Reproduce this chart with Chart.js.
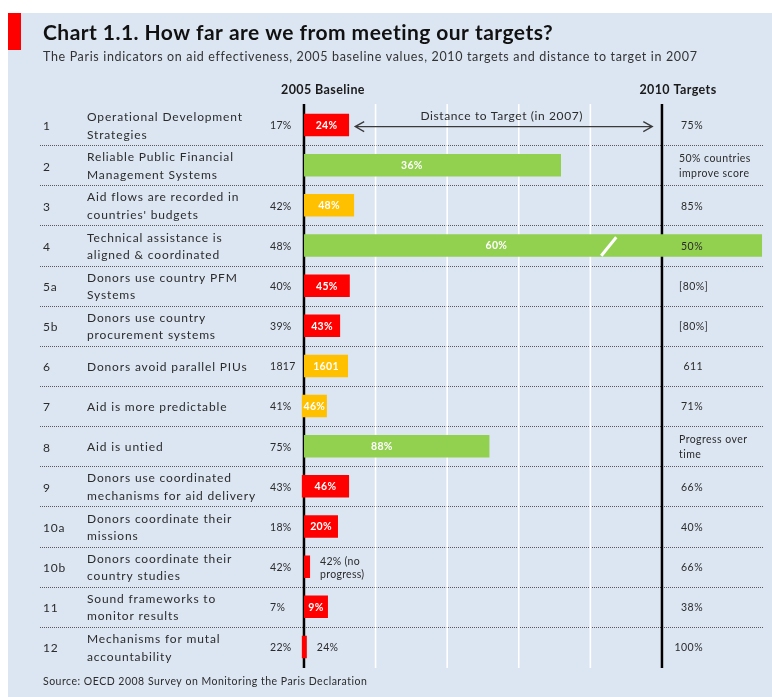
<!DOCTYPE html>
<html><head><meta charset="utf-8">
<script src="https://cdn.jsdelivr.net/npm/chart.js@4.4.1/dist/chart.umd.min.js"></script>
<style>
html,body{margin:0;padding:0;background:#fff;}
#wrap{width:772px;height:697px;position:relative;}
</style>
</head><body>
<div id="wrap"><canvas id="c"></canvas></div>
<script>
// ---------- data ----------
const rowIds = ['1','2','3','4','5a','5b','6','7','8','9','10a','10b','11','12'];
const indicators = [
  ['Operational Development','Strategies'],
  ['Reliable Public Financial','Management Systems'],
  ['Aid flows are recorded in',"countries' budgets"],
  ['Technical assistance is','aligned & coordinated'],
  ['Donors use country PFM','Systems'],
  ['Donors use country','procurement systems'],
  ['Donors avoid parallel PIUs'],
  ['Aid is more predictable'],
  ['Aid is untied'],
  ['Donors use coordinated','mechanisms for aid delivery'],
  ['Donors coordinate their','missions'],
  ['Donors coordinate their','country studies'],
  ['Sound frameworks to','monitor results'],
  ['Mechanisms for mutal','accountability']
];
const baseline2005 = ['17%','','42%','48%','40%','39%','1817','41%','75%','43%','18%','42%','7%','22%'];
const result2007 = [['24%'],['36%'],['48%'],['60%'],['45%'],['43%'],['1601'],['46%'],['88%'],['46%'],['20%'],['42% (no','progress)'],['9%'],['24%']];
const targets2010 = [['75%'],['50% countries','improve score'],['85%'],['50%'],['[80%]'],['[80%]'],['611'],['71%'],['Progress over','time'],['66%'],['40%'],['66%'],['38%'],['100%']];
// distance covered toward target (0 = 2005 baseline, 100 = 2010 target), as drawn
const progressStart = [0,0,0,0,0,0,0,-0.6,0,-0.6,0,0,0,-0.6];
const progressEnd   = [12.6,71.8,14,128,12.8,10.1,12.3,6.4,51.8,12.6,9.5,1.7,6.7,0.8];
const status = ['off','met','some','met','off','off','some','some','met','off','off','off','off','off'];
const gridSteps = [0,20,40,60,80,100];
const baselineValue = 0, targetValue = 100;

const statusColor = {off:'#ff0000', some:'#ffc000', met:'#92d050'};
const FONT = 'Lato, "Open Sans", sans-serif';
const TXT = '#2b2b2b';

function font(size, weight){ return (weight||'normal') + ' ' + size + 'px ' + FONT; }

const painter = {
  id: 'painter',
  beforeDraw(chart){
    const {ctx, chartArea:ca} = chart;
    const ys = chart.scales.y;
    ctx.save();
    ctx.fillStyle = '#ffffff';
    ctx.fillRect(0,0,chart.width,chart.height);
    ctx.fillStyle = '#dce6f2';
    ctx.fillRect(8,13,chart.width-8,chart.height-13);
    ctx.fillStyle = '#ff0000';
    ctx.fillRect(8,13,13,37);
    // titles
    ctx.fillStyle = '#111';
    ctx.textBaseline = 'alphabetic';
    ctx.textAlign = 'left';
    ctx.font = font(21,'bold');
    ctx.letterSpacing = '0.45px';
    ctx.fillText('Chart 1.1. How far are we from meeting our targets?', 43, 40);
    ctx.fillStyle = '#333';
    ctx.font = font(12.5);
    ctx.letterSpacing = '0.65px';
    ctx.fillText('The Paris indicators on aid effectiveness, 2005 baseline values, 2010 targets and distance to target in 2007', 43, 61);
    ctx.letterSpacing = '0px';
    // dotted row separators
    ctx.strokeStyle = '#5a5a5a';
    ctx.lineWidth = 1;
    ctx.setLineDash([1,1]);
    for (let i=0;i<rowIds.length-1;i++){
      const y = Math.round((ys.getPixelForValue(i)+ys.getPixelForValue(i+1))/2)+0.5;
      ctx.beginPath(); ctx.moveTo(40,y); ctx.lineTo(763,y); ctx.stroke();
    }
    ctx.setLineDash([]);
    ctx.restore();
  },
  beforeDatasetsDraw(chart){
    const {ctx, chartArea:ca} = chart;
    const xs = chart.scales.x;
    ctx.save();
    gridSteps.forEach(v=>{
      const x = xs.getPixelForValue(v);
      const major = (v===baselineValue || v===targetValue);
      ctx.strokeStyle = major ? '#000' : '#ffffff';
      ctx.lineWidth = major ? 2.5 : 1.6;
      ctx.beginPath(); ctx.moveTo(x, ca.top-1); ctx.lineTo(x, ca.bottom+1); ctx.stroke();
    });
    ctx.restore();
  },
  afterDatasetsDraw(chart){
    const {ctx, chartArea:ca} = chart;
    const xs = chart.scales.x, ys = chart.scales.y;
    const meta = chart.getDatasetMeta(0);
    const unit = xs.getPixelForValue(1)-xs.getPixelForValue(0);
    ctx.save();
    meta.data.forEach((bar,i)=>{
      const x0 = Math.min(bar.x,bar.base), x1 = Math.max(bar.x,bar.base);
      const w = x1-x0;
      const lines = result2007[i];
      ctx.font = font(10.5,'bold');
      ctx.letterSpacing = '0.3px';
      const tw = ctx.measureText(lines[0]).width;
      ctx.textBaseline = 'middle';
      if (lines.length===1 && w >= tw+2){
        ctx.fillStyle = '#ffffff';
        ctx.textAlign = 'center';
        const cx = w > 40*unit ? x0 + 0.42*w : x0 + w/2;
        ctx.fillText(lines[0], cx, bar.y+0.5);
      } else {
        ctx.fillStyle = TXT;
        ctx.textAlign = 'left';
        ctx.font = font(10.5);
        const lh = 13;
        const y0 = bar.y + 1 - (lines.length-1)*lh/2;
        lines.forEach((t,k)=>ctx.fillText(t, x1+10, y0+k*lh));
      }
      // axis break mark for bars running past the target
      if (progressEnd[i] > targetValue){
        const bx = xs.getPixelForValue(85);
        const h = bar.height;
        ctx.strokeStyle = '#ffffff';
        ctx.lineWidth = 3;
        ctx.beginPath();
        ctx.moveTo(bx-7, bar.y+h/2-1);
        ctx.lineTo(bx+8, bar.y-h/2+3);
        ctx.stroke();
      }
    });
    ctx.restore();
  },
  afterDraw(chart){
    const {ctx, chartArea:ca} = chart;
    const xs = chart.scales.x, ys = chart.scales.y;
    const xb = xs.getPixelForValue(baselineValue), xt = xs.getPixelForValue(targetValue);
    ctx.save();
    // headers
    ctx.fillStyle = '#1a1a1a';
    ctx.textAlign = 'center';
    ctx.textBaseline = 'alphabetic';
    ctx.font = font(12.5,'bold');
    ctx.letterSpacing = '0.4px';
    ctx.fillText('2005 Baseline', xb+19, 94);
    ctx.fillText('2010 Targets', xt+16, 94);
    // distance arrow
    const ay = ys.getPixelForValue(0)+1.5;
    const ax0 = xs.getPixelForValue(14.3), ax1 = xs.getPixelForValue(97.3);
    ctx.strokeStyle = '#3a3a3a';
    ctx.lineWidth = 1.3;
    ctx.beginPath();
    ctx.moveTo(ax0, ay); ctx.lineTo(ax1, ay);
    ctx.moveTo(ax0+9, ay-5); ctx.lineTo(ax0, ay); ctx.lineTo(ax0+9, ay+5);
    ctx.moveTo(ax1-9, ay-5); ctx.lineTo(ax1, ay); ctx.lineTo(ax1-9, ay+5);
    ctx.stroke();
    ctx.fillStyle = TXT;
    ctx.font = font(12);
    ctx.letterSpacing = '0.6px';
    ctx.textBaseline = 'middle';
    ctx.fillText('Distance to Target (in 2007)', (ax0+ax1)/2-2, ay-10.5);
    // row texts
    rowIds.forEach((id,i)=>{
      const cy = ys.getPixelForValue(i)+1;
      ctx.textAlign = 'left';
      ctx.fillStyle = TXT;
      ctx.font = font(12);
      ctx.letterSpacing = '0.85px';
      ctx.fillText(id, 43, cy+0.5);
      const L = indicators[i];
      const lh = 17.5;
      L.forEach((t,k)=>ctx.fillText(t, 87, cy - (L.length-1)*lh/2 + k*lh));
      ctx.font = font(10.5);
      ctx.letterSpacing = '0.3px';
      ctx.fillText(baseline2005[i], 270, cy);
      const T = targets2010[i];
      const tl = 15.5;
      ctx.font = font(10.5);
      ctx.letterSpacing = '0.45px';
      T.forEach((t,k)=>{
        const y = cy - (T.length-1)*tl/2 + k*tl;
        if (/^[0-9%]+$/.test(t)){ ctx.textAlign='right'; ctx.fillText(t, 703, y); }
        else { ctx.textAlign='left'; ctx.fillText(t, 679, y); }
      });
    });
    ctx.letterSpacing = '0.5px';
    ctx.textAlign = 'left';
    ctx.font = font(10.5);
    ctx.fillStyle = TXT;
    ctx.fillText('Source: OECD 2008 Survey on Monitoring the Paris Declaration', 43, 682);
    ctx.restore();
  }
};

const xMin = -1, xMax = 128;
new Chart(document.getElementById('c'), {
  type: 'bar',
  data: {
    labels: rowIds,
    datasets: [{
      data: progressStart.map((s,i)=>[s, progressEnd[i]]),
      backgroundColor: status.map(s=>statusColor[s]),
      borderWidth: 0,
      borderSkipped: false,
      barPercentage: 0.56,
      categoryPercentage: 1
    }]
  },
  options: {
    indexAxis: 'y',
    responsive: true,
    maintainAspectRatio: false,
    animation: false,
    events: [],
    layout: { padding: { left: 300.4, right: 9.8, top: 105, bottom: 30 } },
    scales: {
      x: { type: 'linear', min: xMin, max: xMax, display: false },
      y: { type: 'category', display: false, offset: true }
    },
    plugins: { legend: {display:false}, title:{display:false}, tooltip:{enabled:false} }
  },
  plugins: [painter]
});
</script>
</body></html>
